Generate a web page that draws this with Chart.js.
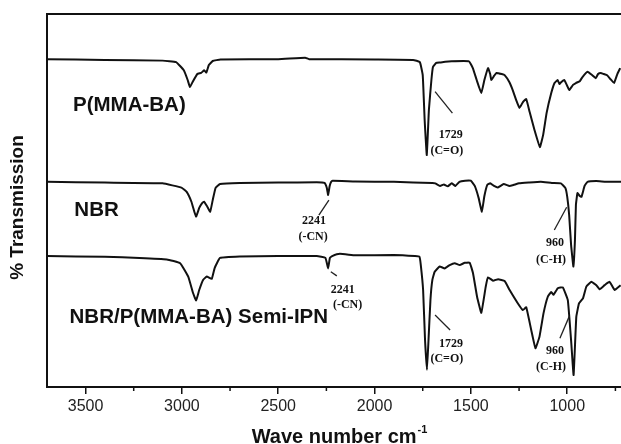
<!DOCTYPE html>
<html>
<head>
<meta charset="utf-8">
<script src="https://cdn.jsdelivr.net/npm/chart.js@4.4.0/dist/chart.umd.min.js"></script>
<style>
html,body{margin:0;padding:0;background:#fff;overflow:hidden}
</style>
</head>
<body>
<canvas id="myChart" width="621" height="444"></canvas>
<script>
// wave number range (cm-1), axis reversed
var xMax = 3700;
var xMin = 721;
var majorTicks = [3500, 3000, 2500, 2000, 1500, 1000];
var minorTicks = [3250, 2750, 2250, 1750, 1250, 750];

// P(MMA-BA)
var pmmaWave = [3700,3400,3100,3030,2990,2970,2958,2945,2920,2900,2885,2873,2860,2840,2800,2500,2360,2340,2000,1800,1765,1750,1740,1729,1718,1705,1697,1680,1662,1600,1510,1490,1470,1446,1430,1411,1400,1394,1380,1368,1340,1325,1300,1283,1265,1248,1230,1213,1195,1170,1142,1125,1107,1083,1066,1050,1040,1032,1015,1000,990,970,955,935,921,895,870,852,840,826,810,793,775,757,740,725];
var pmmaT = [87.9,87.7,87.5,87.1,84.9,82.3,80.4,81.7,83.9,84.2,84.9,84.3,86.3,87.4,87.8,87.9,88.3,87.9,87.8,87.7,87.1,83.6,71.6,62.2,74.3,82.3,85.8,86.9,87.0,87.3,87.3,85.5,82.3,78.8,82.3,85.5,83.9,82.3,83.4,84.2,83.9,83.6,81.7,79.6,76.9,74.8,76.4,77.2,73.7,68.9,64.3,67.6,73.5,78.8,81.5,82.3,81.2,81.7,82.3,80.7,79.6,81.0,81.5,82.0,83.1,84.5,83.6,82.8,83.9,84.2,83.9,83.6,82.5,81.5,83.9,85.5];

// NBR
var nbrWave = [3700,3400,3100,3000,2975,2950,2935,2926,2910,2895,2885,2870,2853,2840,2825,2802,2700,2500,2300,2260,2248,2241,2233,2225,2218,2100,1900,1700,1685,1660,1640,1620,1600,1580,1560,1530,1501,1480,1460,1443,1430,1415,1400,1380,1360,1330,1300,1277,1250,1200,1137,1080,1033,1010,1000,990,980,968,960,955,947,935,926,910,895,850,800,740,720];
var nbrT = [55.0,54.8,54.6,53.4,52.3,49.6,46.9,45.7,48.0,49.3,49.7,48.5,47.0,50.1,53.4,54.4,54.7,54.8,54.9,54.7,53.4,51.5,53.9,55.0,55.3,55.1,55.0,54.7,54.6,53.9,54.3,53.8,54.6,53.9,55.0,55.3,55.3,53.9,50.7,47.0,51.2,54.2,54.6,53.9,53.5,54.4,53.9,54.2,54.6,54.8,55.0,54.7,54.6,53.4,51.0,46.1,38.1,32.3,39.4,48.8,52.0,51.2,51.0,53.9,55.0,55.2,55.0,55.0,55.0];

// NBR/P(MMA-BA) Semi-IPN
var ipnWave = [3700,3400,3220,3078,3009,2967,2942,2926,2910,2890,2871,2845,2830,2802,2700,2500,2300,2255,2241,2232,2220,2180,2100,1900,1790,1767,1760,1748,1738,1728,1720,1710,1700,1688,1662,1636,1610,1584,1558,1532,1506,1489,1468,1446,1423,1411,1385,1359,1325,1299,1256,1230,1213,1187,1165,1144,1123,1101,1083,1071,1049,1023,997,979,967,953,939,918,901,875,849,832,806,780,754,723];
var ipnT = [35.1,34.9,34.6,34.2,33.2,29.6,25.2,23.2,26.0,28.7,29.6,29.0,31.9,34.6,35.0,35.1,35.1,34.6,31.8,34.6,35.1,35.7,35.3,35.4,35.1,34.9,32.7,26.0,12.6,4.6,12.6,23.3,28.7,30.9,32.3,31.8,32.7,33.2,32.7,33.3,33.3,30.5,24.2,19.9,26.9,29.4,28.5,28.9,28.4,26.0,22.4,20.6,21.4,15.3,10.4,13.5,19.8,24.2,25.5,24.7,26.5,26.7,23.3,11.8,3.2,18.8,22.4,23.8,26.9,28.2,27.3,26.2,27.3,28.2,26.0,27.3];

// curve names, placed at (wave number, value)
var seriesNames = [
	{text:'P(MMA-BA)', at:[3565, 75.4]},
	{text:'NBR', at:[3558, 47.3]},
	{text:'NBR/P(MMA-BA) Semi-IPN', at:[3583, 18.8]}
];

// peak notes: leader line and text lines
var peakNotes = [
	{line:[1686,79.2,1596,73.4], texts:[['1729',1605,67.6],['(C=O)',1625,63.4]]},
	{line:[2237,50.1,2289,46.1], texts:[['2241',2314,44.6],['(-CN)',2319,40.3]]},
	{line:[1003,48.2,1067,42.1], texts:[['960',1064,38.5],['(C-H)',1084,34.0]]},
	{line:[2227,30.9,2196,29.8], texts:[['2241',2165,26.0],['(-CN)',2140,22.0]]},
	{line:[1686,19.3,1608,15.3], texts:[['1729',1603,11.5],['(C=O)',1625,7.5]]},
	{line:[989,19.0,1038,13.1], texts:[['960',1064,9.7],['(C-H)',1084,5.4]]}
];

function toPoints(xs, ys){
	var pts = [];
	xs.forEach(function(x, i){
		pts.push({x:x, y:ys[i]});
	});
	return pts;
}

var framePlugin = {
	id:'frame',
	afterDraw:function(chart){
		var ctx = chart.ctx, a = chart.chartArea;
		var xs = chart.scales.x, ys = chart.scales.y;
		ctx.save();
		ctx.strokeStyle = '#111';
		ctx.lineWidth = 2;
		ctx.beginPath();
		ctx.moveTo(a.left - 1, a.top);
		ctx.lineTo(a.right, a.top);
		ctx.stroke();

		// minor ticks, shorter than the major ones
		ctx.lineWidth = 1.5;
		minorTicks.forEach(function(v){
			var px = xs.getPixelForValue(v);
			ctx.beginPath();
			ctx.moveTo(px, a.bottom);
			ctx.lineTo(px, a.bottom + 4);
			ctx.stroke();
		});

		ctx.fillStyle = '#111';
		ctx.textAlign = 'left';
		ctx.textBaseline = 'middle';
		ctx.font = 'bold 20.5px "Liberation Sans", Arial, sans-serif';
		seriesNames.forEach(function(s){
			ctx.fillText(s.text, xs.getPixelForValue(s.at[0]), ys.getPixelForValue(s.at[1]));
		});

		ctx.lineWidth = 1.3;
		ctx.strokeStyle = '#222';
		ctx.textAlign = 'center';
		ctx.font = 'bold 12px "Liberation Serif", "Times New Roman", serif';
		peakNotes.forEach(function(n){
			ctx.beginPath();
			ctx.moveTo(xs.getPixelForValue(n.line[0]), ys.getPixelForValue(n.line[1]));
			ctx.lineTo(xs.getPixelForValue(n.line[2]), ys.getPixelForValue(n.line[3]));
			ctx.stroke();
			n.texts.forEach(function(t){
				ctx.fillText(t[0], xs.getPixelForValue(t[1]), ys.getPixelForValue(t[2]));
			});
		});

		// x title with superscript
		var main = 'Wave number cm', sup = '-1';
		ctx.font = 'bold 20px "Liberation Sans", Arial, sans-serif';
		var w1 = ctx.measureText(main).width;
		ctx.font = 'bold 11px "Liberation Sans", Arial, sans-serif';
		var w2 = ctx.measureText(sup).width;
		var cx = (a.left + a.right) / 2 + 5;
		var x0 = cx - (w1 + w2) / 2;
		var base = chart.height - 1;
		ctx.textAlign = 'left';
		ctx.textBaseline = 'alphabetic';
		ctx.font = 'bold 20px "Liberation Sans", Arial, sans-serif';
		ctx.fillText(main, x0, base);
		ctx.font = 'bold 11px "Liberation Sans", Arial, sans-serif';
		ctx.fillText(sup, x0 + w1 + 1, base - 10);

		// y title
		ctx.translate(18, (a.top + a.bottom) / 2 + 7);
		ctx.rotate(-Math.PI / 2);
		ctx.textAlign = 'center';
		ctx.textBaseline = 'middle';
		ctx.font = 'bold 19px "Liberation Sans", Arial, sans-serif';
		ctx.fillText('% Transmission', 0, 0);
		ctx.restore();
	}
};

var ctx = document.getElementById('myChart').getContext('2d');
var myChart = new Chart(ctx, {
	type:'line',
	data:{
		datasets:[
			{label:'P(MMA-BA)', data:toPoints(pmmaWave, pmmaT)},
			{label:'NBR', data:toPoints(nbrWave, nbrT)},
			{label:'NBR/P(MMA-BA) Semi-IPN', data:toPoints(ipnWave, ipnT)}
		]
	},
	options:{
		responsive:false,
		animation:false,
		parsing:false,
		layout:{padding:{top:14, left:0, right:0, bottom:0}},
		plugins:{legend:{display:false}, tooltip:{enabled:false}},
		elements:{
			point:{radius:0},
			line:{tension:0.1, borderWidth:2, borderColor:'#111', fill:false}
		},
		scales:{
			x:{
				type:'linear',
				reverse:true,
				min:xMin,
				max:xMax,
				afterBuildTicks:function(scale){
					scale.ticks = majorTicks.map(function(v){ return {value:v}; });
				},
				afterFit:function(scale){ scale.height = 57; },
				grid:{display:true, drawOnChartArea:false, drawTicks:true, tickLength:7, color:'#111', lineWidth:1.5},
				border:{display:true, color:'#111', width:2},
				ticks:{
					padding:3,
					color:'#222',
					autoSkip:false,
					maxRotation:0,
					font:{family:'"Liberation Sans", Arial, sans-serif', size:16},
					callback:function(v){ return String(v); }
				}
			},
			y:{
				min:0,
				max:100,
				afterFit:function(scale){ scale.width = 47; },
				grid:{display:false},
				border:{display:true, color:'#111', width:2},
				ticks:{display:false}
			}
		}
	},
	plugins:[framePlugin]
});
</script>
</body>
</html>
